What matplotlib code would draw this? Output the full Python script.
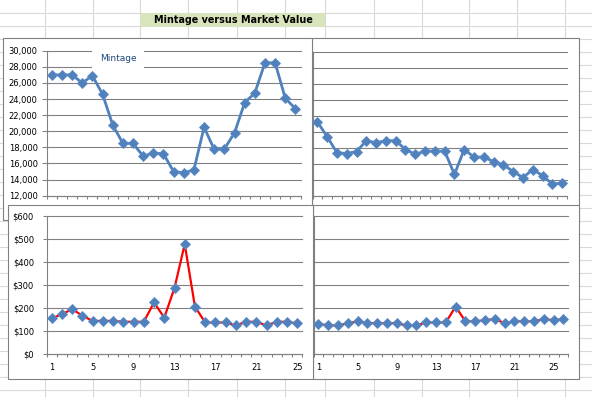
import numpy as np
import matplotlib.pyplot as plt
from matplotlib.patches import Rectangle
from matplotlib.ticker import FuncFormatter, MultipleLocator, FixedLocator

W, H = 592, 397

title = 'Mintage versus Market Value'
legend_label = 'Mintage'

# values (index 1..n)
mintage_left = [27000, 27000, 27000, 26000, 26900, 24600, 20800, 18500, 18500, 16900,
                17300, 17200, 15000, 14850, 15200, 20500, 17750, 17800, 19800, 23550,
                24750, 28500, 28500, 24100, 22800]
mintage_right = [21250, 19400, 17400, 17300, 17550, 18900, 18650, 18900, 18900, 17800,
                 17200, 17600, 17600, 17600, 14700, 17800, 16850, 16850, 16300, 15900,
                 15050, 14300, 15300, 14550, 13500, 13600]
value_left = [156, 174, 196, 167, 145, 145, 145, 141, 141, 141, 225, 159, 288, 478, 207,
              138, 138, 138, 125, 141, 141, 125, 141, 141, 134]
value_right = [133, 125, 125, 135, 143, 135, 135, 135, 135, 125, 125, 138, 138, 138, 207,
               143, 143, 148, 153, 135, 143, 143, 143, 153, 148, 153]
label_ticks = [1, 5, 9, 13, 17, 21, 25]

# spreadsheet background layout (pixels)
sheet_cols = [44.5, 92.5, 140, 188, 237, 285, 325, 374, 421.5, 469, 517, 565]
sheet_rows = np.arange(13, H, 13)

GRID = '#808080'
SHEET = '#D9D9D9'
BLUE = '#4F81BD'
FS = 6.0


def px_rect(x0, y0, x1, y1):
    return [x0 / W, 1 - y1 / H, (x1 - x0) / W, (y1 - y0) / H]


fig = plt.figure(figsize=(W / 100, H / 100), dpi=100)
fig.patch.set_facecolor('white')

bg = fig.add_axes([0, 0, 1, 1])
bg.set_xlim(0, W)
bg.set_ylim(H, 0)
bg.axis('off')
for x in sheet_cols:
    bg.axvline(x, color=SHEET, lw=0.8, zorder=1)
for y in sheet_rows:
    bg.axhline(y, color=SHEET, lw=0.8, zorder=1)
bg.add_patch(Rectangle((140, 13), 185, 13.5, fc='#D8E4BC', ec='none', zorder=2))
bg.text(233.5, 20, title, ha='center', va='center', fontsize=6.9,
        fontweight='bold', color='black', zorder=3)

# chart boxes, back to front
boxes = [(311.7, 38.3, 579, 221), (3, 38.3, 311.7, 220),
         (313.3, 205, 579, 379), (8, 205, 313.3, 379)]
for i, (x0, y0, x1, y1) in enumerate(boxes):
    bg.add_patch(Rectangle((x0, y0), x1 - x0, y1 - y0, fc='white', ec=GRID,
                           lw=0.8, zorder=4 + i))


def setup(ax, values, ylim, step, fmt, line_color, lw, show_ylabels, ypad, ylen, xlabels):
    n = len(values)
    x = np.arange(1, n + 1)
    ax.set_facecolor('none')
    ax.plot(x, values, color=line_color, lw=lw, marker='D', ms=5.0,
            mfc=BLUE, mec='#5B8BC6', mew=0.6, clip_on=False, zorder=3)
    ax.set_xlim(0.5, n + 0.5)
    ax.set_ylim(*ylim)
    ax.yaxis.set_major_locator(MultipleLocator(step))
    ax.yaxis.set_major_formatter(FuncFormatter(fmt))
    ax.grid(axis='y', color=GRID, lw=0.8)
    for gl in ax.get_ygridlines():
        gl.set_clip_on(False)
    for s in ['top', 'right']:
        ax.spines[s].set_visible(False)
    for s in ['left', 'bottom']:
        ax.spines[s].set_color(GRID)
        ax.spines[s].set_linewidth(0.8)
    ax.set_axisbelow(True)
    ax.tick_params(axis='y', length=ylen, width=0.75, color=GRID, pad=ypad,
                   labelsize=FS, labelleft=show_ylabels)
    ax.xaxis.set_minor_locator(FixedLocator(np.arange(0.5, n + 1, 1)))
    ax.xaxis.set_major_locator(FixedLocator(label_ticks))
    ax.tick_params(axis='x', which='minor', length=2.2, width=0.75, color=GRID)
    ax.tick_params(axis='x', which='major', length=0, pad=6.3, labelsize=FS,
                   labelbottom=xlabels)


money = lambda v, p: '${:,.0f}'.format(v)
count = lambda v, p: '{:,.0f}'.format(v)

ax_tr = fig.add_axes(px_rect(312.5, 51.7, 567, 196))
setup(ax_tr, mintage_right, (12000, 30000), 2000, count, BLUE, 2.0, False, 3, 0, False)

ax_tl = fig.add_axes(px_rect(46.7, 50.7, 300.5, 195.7))
setup(ax_tl, mintage_left, (12000, 30000), 2000, count, BLUE, 2.0, True, 2.9, 3.6, False)
ax_tl.text(118 / W, 1 - 58.5 / H, legend_label, transform=fig.transFigure,
           ha='center', va='center', fontsize=6.5, color='#1F497D', zorder=10,
           bbox=dict(boxstyle='square,pad=0.85', fc='white', ec='none'))

ax_br = fig.add_axes(px_rect(313.5, 216, 568.3, 354.3))
setup(ax_br, value_right, (0, 600), 100, money, 'red', 1.6, False, 3, 0, True)

ax_bl = fig.add_axes(px_rect(46.7, 216, 302.3, 354.3))
setup(ax_bl, value_left, (0, 600), 100, money, 'red', 1.6, True, 6.5, 2.7, True)

fig.savefig('out.png', dpi=100)
